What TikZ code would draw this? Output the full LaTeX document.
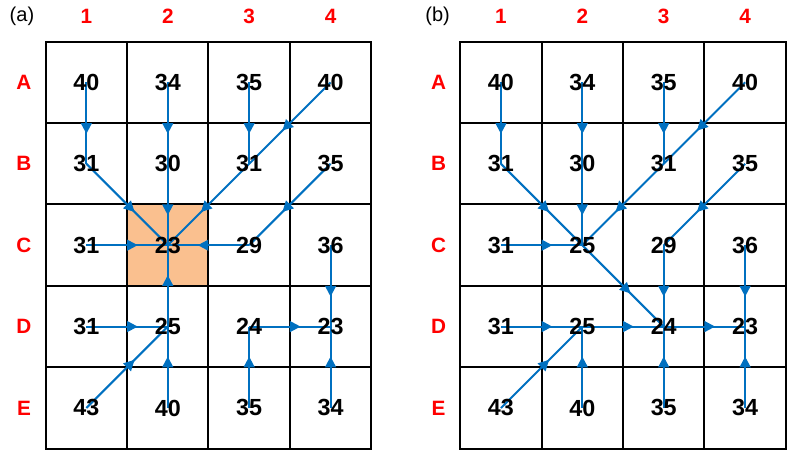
\documentclass[tikz,border=0pt]{standalone}
\usepackage{fontspec}
\setmainfont{Liberation Sans}
\usepackage{tikz}
\usetikzlibrary{arrows.meta,decorations.markings,backgrounds}
\definecolor{flowblue}{RGB}{0,112,192}
\definecolor{sinkfill}{RGB}{250,192,143}

\begin{document}
\begin{tikzpicture}
  [x=2cm,y=-2cm,
   every node/.style={inner sep=0pt, font=\fontsize{16.3}{18}\selectfont\bfseries},
   lab/.style={text=red, font=\fontsize{14.5}{16}\selectfont\bfseries},
   panel/.style={font=\fontsize{14}{16}\selectfont},
   cellrule/.style={line width=1.4pt},
   flow/.style={draw=flowblue, color=flowblue, line width=1.4pt, postaction={decorate},
     decoration={markings, mark=at position 0.5 with {\arrow[xshift=7.5pt]{Triangle[length=7.5pt,width=7.5pt]}}}}]
  \useasboundingbox (-0.061,-0.012) rectangle (9.693,5.614);

  % (a)
  \node [panel] (a-tag) at (0.209,0.184) {(a)};
  \node [lab] (a-c1) at (1,0.184) {1};
  \node [lab] (a-c2) at (2,0.184) {2};
  \node [lab] (a-c3) at (3,0.184) {3};
  \node [lab] (a-c4) at (4,0.184) {4};
  \node [lab] (a-rA) at (0.233,1) {A};
  \node [lab] (a-rB) at (0.233,2) {B};
  \node [lab] (a-rC) at (0.233,3) {C};
  \node [lab] (a-rD) at (0.233,4) {D};
  \node [lab] (a-rE) at (0.233,5) {E};

  \node (a-A1) at (1,1) {40}; \node (a-A2) at (2,1) {34}; \node (a-A3) at (3,1) {35}; \node (a-A4) at (4,1) {40};
  \node (a-B1) at (1,2) {31}; \node (a-B2) at (2,2) {30}; \node (a-B3) at (3,2) {31}; \node (a-B4) at (4,2) {35};
  \node (a-C1) at (1,3) {31}; \node (a-C2) at (2,3) {23}; \node (a-C3) at (3,3) {29}; \node (a-C4) at (4,3) {36};
  \node (a-D1) at (1,4) {31}; \node (a-D2) at (2,4) {25}; \node (a-D3) at (3,4) {24}; \node (a-D4) at (4,4) {23};
  \node (a-E1) at (1,5) {43}; \node (a-E2) at (2,5) {40}; \node (a-E3) at (3,5) {35}; \node (a-E4) at (4,5) {34};

  % (b)
  \begin{scope}[shift={(5.0926,0)}]
  \node [panel] (b-tag) at (0.222,0.184) {(b)};
  \node [lab] (b-c1) at (1,0.184) {1};
  \node [lab] (b-c2) at (2,0.184) {2};
  \node [lab] (b-c3) at (3,0.184) {3};
  \node [lab] (b-c4) at (4,0.184) {4};
  \node [lab] (b-rA) at (0.233,1) {A};
  \node [lab] (b-rB) at (0.233,2) {B};
  \node [lab] (b-rC) at (0.233,3) {C};
  \node [lab] (b-rD) at (0.233,4) {D};
  \node [lab] (b-rE) at (0.233,5) {E};

  \node (b-A1) at (1,1) {40}; \node (b-A2) at (2,1) {34}; \node (b-A3) at (3,1) {35}; \node (b-A4) at (4,1) {40};
  \node (b-B1) at (1,2) {31}; \node (b-B2) at (2,2) {30}; \node (b-B3) at (3,2) {31}; \node (b-B4) at (4,2) {35};
  \node (b-C1) at (1,3) {31}; \node (b-C2) at (2,3) {25}; \node (b-C3) at (3,3) {29}; \node (b-C4) at (4,3) {36};
  \node (b-D1) at (1,4) {31}; \node (b-D2) at (2,4) {25}; \node (b-D3) at (3,4) {24}; \node (b-D4) at (4,4) {23};
  \node (b-E1) at (1,5) {43}; \node (b-E2) at (2,5) {40}; \node (b-E3) at (3,5) {35}; \node (b-E4) at (4,5) {34};
  \end{scope}

  \begin{pgfonlayer}{background}
  % cells
  \fill [sinkfill] (1.5,2.5) rectangle (2.5,3.5);
  \draw [cellrule] (0.5,0.5) rectangle (4.5,5.5)
    (1.5,0.5) -- (1.5,5.5) (2.5,0.5) -- (2.5,5.5) (3.5,0.5) -- (3.5,5.5)
    (0.5,1.5) -- (4.5,1.5) (0.5,2.5) -- (4.5,2.5) (0.5,3.5) -- (4.5,3.5) (0.5,4.5) -- (4.5,4.5);
  \draw [cellrule, xshift=10.185cm] (0.5,0.5) rectangle (4.5,5.5)
    (1.5,0.5) -- (1.5,5.5) (2.5,0.5) -- (2.5,5.5) (3.5,0.5) -- (3.5,5.5)
    (0.5,1.5) -- (4.5,1.5) (0.5,2.5) -- (4.5,2.5) (0.5,3.5) -- (4.5,3.5) (0.5,4.5) -- (4.5,4.5);

  \path [every edge/.style={flow}]
  (a-A1.center) edge (a-B1.center)
  (a-A2.center) edge (a-B2.center)
  (a-A3.center) edge (a-B3.center)
  (a-A4.center) edge (a-B3.center)
  (a-B1.center) edge (a-C2.center)
  (a-B2.center) edge (a-C2.center)
  (a-B3.center) edge (a-C2.center)
  (a-B4.center) edge (a-C3.center)
  (a-C1.center) edge (a-C2.center)
  (a-C3.center) edge (a-C2.center)
  (a-D2.center) edge (a-C2.center)
  (a-C4.center) edge (a-D4.center)
  (a-D1.center) edge (a-D2.center)
  (a-E1.center) edge (a-D2.center)
  (a-E2.center) edge (a-D2.center)
  (a-D3.center) edge (a-D4.center)
  (a-E3.center) edge (a-D3.center)
  (a-E4.center) edge (a-D4.center);

  \path [every edge/.style={flow}]
  (b-A1.center) edge (b-B1.center)
  (b-A2.center) edge (b-B2.center)
  (b-A3.center) edge (b-B3.center)
  (b-A4.center) edge (b-B3.center)
  (b-B1.center) edge (b-C2.center)
  (b-B2.center) edge (b-C2.center)
  (b-B3.center) edge (b-C2.center)
  (b-B4.center) edge (b-C3.center)
  (b-C1.center) edge (b-C2.center)
  (b-C2.center) edge (b-D3.center)
  (b-C3.center) edge (b-D3.center)
  (b-C4.center) edge (b-D4.center)
  (b-D1.center) edge (b-D2.center)
  (b-D2.center) edge (b-D3.center)
  (b-D3.center) edge (b-D4.center)
  (b-E1.center) edge (b-D2.center)
  (b-E2.center) edge (b-D2.center)
  (b-E3.center) edge (b-D3.center)
  (b-E4.center) edge (b-D4.center);
  \end{pgfonlayer}

\end{tikzpicture}
\end{document}
